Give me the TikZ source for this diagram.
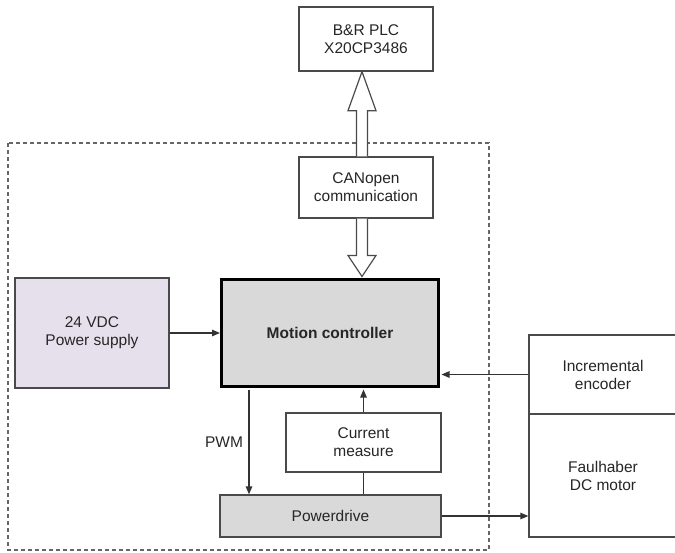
\documentclass[tikz,border=0pt]{standalone}
\usepackage{fontspec}
\setmainfont{Liberation Sans}
\usetikzlibrary{arrows.meta,calc}
\definecolor{linegray}{HTML}{4A4A4A}
\definecolor{boxgray}{HTML}{D9D9D9}
\definecolor{lavender}{HTML}{E6E0EC}
\begin{document}
\begin{tikzpicture}[x=1pt,y=-1pt,
  every node/.style={font=\fontsize{15.5}{18}\selectfont, align=center, text=black!85},
  blk/.style={draw=linegray, line width=1.3pt, fill=white, inner sep=0pt, anchor=center},
  conn/.style={draw=black!80, line width=1.3pt},
  arr/.style={conn, -{Triangle[length=8pt,width=6.5pt]}},
  hollow/.style={draw=linegray, line width=1.2pt, fill=white, line join=miter}
]
\useasboundingbox (0,0) rectangle (675,552);
% dashed enclosure
\draw[draw=black!60, line width=1.5pt, dash pattern=on 4pt off 3pt] (8,143) rectangle (489,550);

\node[blk, minimum width=134pt, minimum height=64pt] (plc) at (366,39) {B\&R PLC\\X20CP3486};
\node[blk, minimum width=134pt, minimum height=61pt] (can) at (366,187.5) {CANopen\\communication};
\node[blk, fill=lavender, minimum width=154pt, minimum height=110pt] (ps) at (92,333) {24 VDC\\Power supply};
\node[blk, draw=black, line width=3pt, fill=boxgray, minimum width=217pt, minimum height=107pt, font=\fontsize{15.5}{18}\selectfont\bfseries] (mc) at (330,333) {Motion controller};
\node[blk, minimum width=155pt, minimum height=59pt] (cur) at (363.5,442.5) {Current\\measure};
\node[blk, fill=boxgray, minimum width=221pt, minimum height=42pt] (pd) at (330.5,516) {Powerdrive};
\node[blk, minimum width=148pt, minimum height=79pt] (enc) at (603,374.5) {Incremental\\encoder};
\node[blk, minimum width=148pt, minimum height=123pt] (mot) at (603,475.5) {Faulhaber\\DC motor};

% hollow double arrows
\coordinate (t1) at (plc.south -| 362,0);
\coordinate (t2) at (can.north -| 362,0);
\coordinate (t3) at (can.south -| 362,0);
\coordinate (t4) at ($(mc.north -| 362,0)+(0,-1.5)$);
\draw[hollow] ($(t2)+(-5.5,0)$) -- ($(t1)+(-5.5,39)$) -- ($(t1)+(-14,39)$) -- (t1)
  -- ($(t1)+(14,39)$) -- ($(t1)+(5.5,39)$) -- ($(t2)+(5.5,0)$);
\draw[hollow] ($(t3)+(-5.5,0)$) -- ($(t4)+(-5.5,-21)$) -- ($(t4)+(-14,-21)$) -- (t4)
  -- ($(t4)+(14,-21)$) -- ($(t4)+(5.5,-21)$) -- ($(t3)+(5.5,0)$);

% connectors
\draw[arr] (ps.east) -- (ps.east -| mc.west);
\draw[arr] (enc.west) -- ($(enc.west -| mc.east)+(1.5,0)$);
\coordinate (pwmtop) at ($(mc.south west)+(29,1.5)$);
\draw[arr] (pwmtop) -- (pwmtop |- pd.north) node[midway, left=2pt, yshift=-0pt] (pwm) {PWM};
\draw[arr] (cur.north) -- ($(cur.north |- mc.south)+(0,1.5)$);
\draw[conn] (cur.south) -- (cur.south |- pd.north);
\draw[arr] (pd.east) -- (pd.east -| mot.west);
\end{tikzpicture}
\end{document}
